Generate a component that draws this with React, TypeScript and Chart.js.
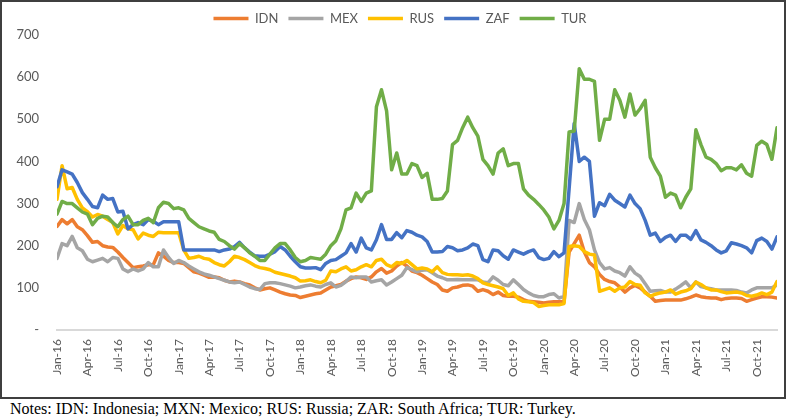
import React, { useEffect, useRef } from "react";
import { Chart, registerables } from "chart.js";

Chart.register(...registerables);

// half-month samples, Jan-16 .. Dec-21 (index / 2 = months since Jan-16)
const IDN = [
  246, 262, 252, 262, 245, 238, 224, 208, 210, 200, 197, 196,
  185, 172, 160, 148, 150, 152, 155, 155, 183, 175, 165, 160,
  160, 158, 148, 138, 135, 130, 125, 126, 124, 118, 114, 116,
  114, 110, 107, 100, 95, 98, 100, 95, 90, 86, 83, 82,
  77, 80, 83, 86, 88, 95, 102, 105, 108, 116, 122, 126,
  124, 120, 126, 138, 146, 135, 140, 152, 160, 152, 140, 136,
  130, 122, 114, 108, 95, 92, 100, 102, 106, 107, 104, 92,
  96, 92, 84, 90, 82, 80, 80, 78, 72, 68, 67, 66,
  64, 66, 67, 67, 67, 185, 205, 225, 185, 160, 150, 132,
  120, 115, 112, 102, 90, 100, 106, 100, 90, 80, 68, 70,
  71, 71, 71, 71, 74, 78, 83, 79, 77, 76, 76, 72,
  75, 76, 76, 75, 68, 72, 76, 79, 79, 78, 76,
];

const MEX = [
  170, 205, 200, 222, 195, 188, 168, 162, 166, 170, 162, 172,
  170, 145, 138, 145, 140, 145, 160, 150, 150, 190, 172, 158,
  165, 160, 152, 145, 138, 133, 130, 126, 122, 118, 114, 112,
  114, 108, 102, 98, 96, 110, 112, 112, 110, 107, 104, 100,
  102, 105, 107, 104, 102, 108, 112, 102, 106, 115, 126, 124,
  126, 126, 114, 117, 119, 107, 114, 122, 130, 148, 143, 138,
  142, 143, 136, 128, 124, 119, 119, 120, 119, 119, 119, 119,
  114, 112, 126, 118, 108, 105, 119, 108, 96, 88, 82, 79,
  79, 84, 86, 76, 80, 260, 255, 300, 262, 238, 190, 160,
  145, 148, 140, 136, 128, 150, 135, 127, 110, 92, 93, 94,
  90, 90, 97, 105, 114, 100, 114, 103, 100, 98, 95, 95,
  95, 95, 94, 90, 88, 95, 100, 100, 100, 100, 107,
];

const RUS = [
  310, 390, 335, 338, 310, 290, 281, 268, 274, 270, 262, 255,
  228, 248, 240, 238, 216, 230, 225, 222, 232, 231, 231, 231,
  231, 190, 170, 172, 175, 170, 168, 160, 155, 152, 162, 175,
  172, 167, 160, 153, 148, 146, 143, 137, 134, 131, 128, 124,
  116, 117, 119, 115, 112, 118, 140, 138, 145, 150, 140, 143,
  150, 155, 150, 165, 168, 155, 150, 160, 158, 165, 155, 145,
  147, 145, 138, 150, 136, 132, 131, 131, 130, 131, 128, 122,
  112, 108, 105, 102, 98, 82, 88, 74, 68, 67, 65, 56,
  58, 60, 60, 60, 63, 198, 200, 198, 186, 180, 178, 92,
  96, 100, 92, 100, 102, 115, 108, 106, 88, 80, 85, 88,
  90, 95, 85, 90, 93, 98, 114, 108, 100, 95, 95, 91,
  88, 89, 90, 88, 82, 80, 83, 88, 84, 90, 115,
];

const ZAF = [
  340, 380, 375, 370, 350, 326, 310, 293, 290, 320, 310, 312,
  280, 282, 240, 250, 255, 250, 262, 258, 250, 257, 257, 257,
  257, 190, 190, 190, 190, 190, 190, 190, 186, 190, 192, 198,
  208, 195, 185, 176, 175, 175, 180, 186, 198, 190, 175, 162,
  150, 147, 147, 148, 143, 158, 165, 167, 175, 183, 205, 185,
  218, 195, 190, 214, 250, 215, 215, 231, 219, 236, 232, 225,
  221, 210, 185, 185, 186, 198, 195, 188, 190, 195, 204, 200,
  167, 162, 190, 188, 176, 168, 190, 185, 180, 186, 190, 172,
  167, 170, 186, 174, 183, 335, 490, 400, 410, 400, 270, 302,
  295, 322, 308, 300, 292, 320, 300, 288, 260, 225, 230, 210,
  220, 225, 210, 225, 225, 215, 236, 214, 208, 200, 190, 183,
  188, 207, 204, 200, 195, 183, 212, 218, 210, 192, 221,
];

const TUR = [
  275, 305, 300, 300, 290, 280, 275, 250, 265, 270, 268, 255,
  245, 262, 270, 250, 250, 260, 265, 255, 290, 303, 300, 288,
  290, 285, 265, 255, 245, 240, 235, 232, 215, 210, 200, 192,
  205, 195, 183, 175, 165, 165, 180, 195, 205, 205, 190, 172,
  162, 165, 172, 170, 168, 180, 200, 212, 240, 285, 290, 325,
  305, 325, 330, 530, 570, 520, 380, 420, 370, 370, 395, 390,
  362, 372, 310, 310, 312, 330, 440, 450, 480, 505, 480, 460,
  405, 390, 370, 420, 430, 390, 395, 395, 335, 320, 310, 298,
  285, 268, 240, 260, 300, 470, 472, 620, 595, 595, 590, 450,
  500, 500, 570, 545, 505, 560, 510, 525, 545, 410, 385, 365,
  315, 325, 320, 290, 315, 335, 475, 440, 410, 405, 395, 378,
  385, 385, 380, 392, 372, 365, 438, 448, 440, 405, 480,
];

const xTickLabels = [
  "Jan-16", "Apr-16", "Jul-16", "Oct-16",
  "Jan-17", "Apr-17", "Jul-17", "Oct-17",
  "Jan-18", "Apr-18", "Jul-18", "Oct-18",
  "Jan-19", "Apr-19", "Jul-19", "Oct-19",
  "Jan-20", "Apr-20", "Jul-20", "Oct-20",
  "Jan-21", "Apr-21", "Jul-21", "Oct-21",
];

const seriesNames = ["IDN", "MEX", "RUS", "ZAF", "TUR"];
const seriesValues = [IDN, MEX, RUS, ZAF, TUR];
const seriesColors = ["#ED7D31", "#A5A5A5", "#FFC000", "#4472C4", "#70AD47"];

const FONT = "Lato, 'Open Sans', sans-serif";

// Excel puts the legend a bit right of the canvas centre
const legendShift = {
  id: "legendShift",
  afterLayout(chart: Chart) {
    if (chart.legend) chart.legend.left += 16;
  },
};

const App: React.FC = () => {
  const canvasRef = useRef<HTMLCanvasElement | null>(null);

  useEffect(() => {
    if (!canvasRef.current) return;

    const datasets = seriesNames.map((name, i) => ({
      label: name,
      data: seriesValues[i].map((v, j) => ({ x: j / 2, y: v })),
      borderColor: seriesColors[i],
      backgroundColor: seriesColors[i],
      borderWidth: 3.5,
      borderCapStyle: "round" as const,
      borderJoinStyle: "round" as const,
      pointRadius: 0,
      tension: 0,
      order: seriesNames.length - i, // later series drawn on top, like Excel
    }));

    const chart = new Chart(canvasRef.current, {
      type: "line",
      data: { datasets },
      plugins: [legendShift],
      options: {
        responsive: false,
        animation: false,
        layout: { padding: { left: 5, right: 7, top: 0, bottom: 12 } },
        plugins: {
          legend: {
            position: "top",
            labels: {
              usePointStyle: true,
              pointStyle: "line",
              pointStyleWidth: 35,
              color: "#595959",
              font: { family: FONT, size: 13 },
              padding: 10,
              sort: (a, b) => (a.datasetIndex ?? 0) - (b.datasetIndex ?? 0),
            },
          },
          tooltip: { enabled: false },
        },
        scales: {
          x: {
            type: "linear",
            min: 0,
            max: 71,
            grid: { display: false, drawTicks: false },
            border: { display: true, color: "#D9D9D9", width: 2 },
            ticks: {
              stepSize: 3,
              includeBounds: false,
              autoSkip: false,
              minRotation: 90,
              maxRotation: 90,
              padding: 9,
              color: "#595959",
              font: { family: FONT, size: 12 },
              callback: (v) => {
                const n = Number(v);
                return n % 3 === 0 ? xTickLabels[n / 3] ?? "" : "";
              },
            },
            afterFit: (scale) => {
              scale.height = 55;
            },
          },
          y: {
            min: 0,
            max: 700,
            grid: { display: false, drawTicks: false },
            border: { display: false },
            ticks: {
              stepSize: 100,
              padding: 18,
              color: "#595959",
              font: { family: FONT, size: 13 },
              callback: (v) => (Number(v) === 0 ? "-" : String(v)),
            },
            afterFit: (scale) => {
              scale.width = 50;
            },
          },
        },
      },
    });

    return () => chart.destroy();
  }, []);

  return (
    <div style={{ position: "absolute", left: 0, top: 0, width: 787, height: 419, background: "#fff" }}>
      <div
        style={{
          position: "absolute",
          left: 0,
          top: 0,
          width: 786,
          height: 399,
          boxSizing: "border-box",
          border: "2px solid #3f3f3f",
        }}
      >
        <canvas ref={canvasRef} width={782} height={395} style={{ display: "block" }} />
      </div>
      <div
        style={{
          position: "absolute",
          left: 10,
          top: 399,
          fontFamily: "'Times New Roman', 'Liberation Serif', serif",
          fontSize: 16,
          lineHeight: "19px",
          color: "#000",
          whiteSpace: "nowrap",
        }}
      >
        Notes: IDN: Indonesia; MXN: Mexico; RUS: Russia; ZAR: South Africa; TUR: Turkey.
      </div>
    </div>
  );
};

export default App;
